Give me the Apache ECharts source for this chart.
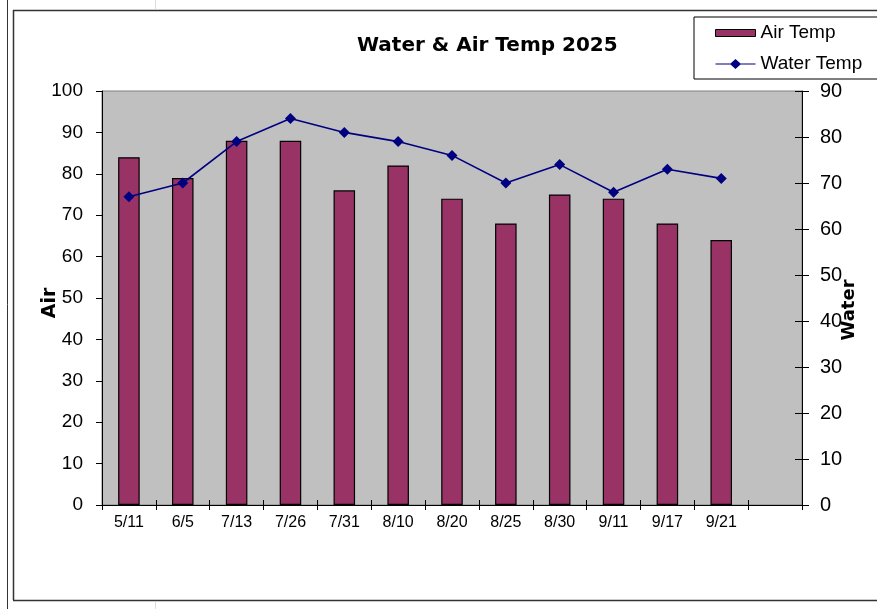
<!DOCTYPE html>
<html>
<head>
<meta charset="utf-8">
<script src="https://cdn.jsdelivr.net/npm/echarts@6/dist/echarts.min.js"></script>
<style>
html,body{margin:0;padding:0;background:#fff;}
#chart{width:877px;height:609px;}
</style>
</head>
<body>
<div id="chart"></div>
<script>
const categories = ['5/11','6/5','7/13','7/26','7/31','8/10','8/20','8/25','8/30','9/11','9/17','9/21',''];
const airTemp = [84,79,88,88,76,82,74,68,75,74,68,64,'-'];
const waterTemp = [67,70,79,84,81,79,76,70,74,68,73,71,'-'];
const airTicks = {min:0,max:100,interval:10};
const waterTicks = {min:0,max:90,interval:10};

const FONT = '"Liberation Sans", Arial, sans-serif';
const TFONT = '"DejaVu Sans", Verdana, sans-serif';
const chart = echarts.init(document.getElementById('chart'), null, {renderer:'canvas'});
chart.setOption({
  backgroundColor:'#ffffff',
  animation:false,
  textStyle:{fontFamily:FONT},
  title:{
    text:'Water & Air Temp 2025',
    left:352, top:31,
    textStyle:{fontFamily:TFONT,fontSize:20,fontWeight:'bold',color:'#000'}
  },
  legend:{
    orient:'vertical',
    left:694, top:17,
    padding:[6,40,5,21],
    itemGap:11,
    backgroundColor:'#fff',
    borderColor:'#000',
    borderWidth:1,
    borderRadius:0,
    itemWidth:40, itemHeight:10,
    textStyle:{fontFamily:FONT,fontSize:19,color:'#000',lineHeight:20},
    data:[
      {name:'Air Temp', icon:'path://M0,1.5 L40,1.5 L40,8.5 L0,8.5 Z', itemStyle:{color:'#993366',borderColor:'#000',borderWidth:1}},
      {name:'Water Temp', icon:'path://M0,4.4 L15,4.4 L20,0 L25,4.4 L40,4.4 L40,5.6 L25,5.6 L20,10 L15,5.6 L0,5.6 Z', itemStyle:{color:'#000080',borderWidth:0}}
    ]
  },
  grid:{
    left:102, right:75, top:91, bottom:104,
    show:true, backgroundColor:'#C0C0C0', borderColor:'#808080', borderWidth:1
  },
  xAxis:[
    {
      type:'category',
      data:categories,
      boundaryGap:true,
      axisLine:{lineStyle:{color:'#000',width:1}},
      axisTick:{show:true,interval:0,length:5,lineStyle:{color:'#000'}},
      axisLabel:{interval:0,fontFamily:FONT,fontSize:16,color:'#000',margin:10},
      splitLine:{show:false}
    },
    {
      type:'category',
      data:categories,
      position:'bottom',
      boundaryGap:true,
      axisLine:{show:false},
      axisTick:{show:true,inside:true,interval:0,length:5,lineStyle:{color:'#000'}},
      axisLabel:{show:false},
      splitLine:{show:false}
    }
  ],
  yAxis:[
    {
      type:'value', min:airTicks.min, max:airTicks.max, interval:airTicks.interval,
      axisLine:{show:true,lineStyle:{color:'#000'}},
      axisTick:{show:true,length:6,lineStyle:{color:'#000'}},
      axisLabel:{fontFamily:FONT,fontSize:19,color:'#000',margin:19},
      splitLine:{show:false}
    },
    {
      type:'value', min:waterTicks.min, max:waterTicks.max, interval:waterTicks.interval,
      position:'right',
      axisLine:{show:true,lineStyle:{color:'#000'}},
      axisTick:{show:true,length:7,lineStyle:{color:'#000'}},
      axisLabel:{fontFamily:FONT,fontSize:20,color:'#000',margin:18},
      splitLine:{show:false}
    },
    {
      type:'value', min:waterTicks.min, max:waterTicks.max, interval:waterTicks.interval,
      position:'right', offset:0,
      axisLine:{show:false},
      axisTick:{show:true,inside:true,length:7,lineStyle:{color:'#000'}},
      axisLabel:{show:false},
      splitLine:{show:false}
    }
  ],
  series:[
    {
      name:'Air Temp', type:'bar', data:airTemp, yAxisIndex:0, xAxisIndex:0,
      barWidth:'40%',
      itemStyle:{color:'#993366',borderColor:'#000',borderWidth:1.2}
    },
    {
      name:'Water Temp', type:'line', data:waterTemp, yAxisIndex:1, xAxisIndex:0,
      symbol:'diamond', symbolSize:11,
      lineStyle:{color:'#000080',width:1.6},
      itemStyle:{color:'#000080'}
    }
  ],
  graphic:[
    {type:'line',shape:{x1:7.5,y1:0,x2:7.5,y2:609},style:{stroke:'#333',lineWidth:1}},
    {type:'line',shape:{x1:13.5,y1:10,x2:13.5,y2:600},style:{stroke:'#333',lineWidth:1.5}},
    {type:'line',shape:{x1:13,y1:10.5,x2:877,y2:10.5},style:{stroke:'#333',lineWidth:1.5}},
    {type:'line',shape:{x1:13,y1:600.5,x2:877,y2:600.5},style:{stroke:'#333',lineWidth:1.5}},
    {type:'line',shape:{x1:155.5,y1:0,x2:155.5,y2:9},style:{stroke:'#ddd',lineWidth:1}},
    {type:'line',shape:{x1:155.5,y1:602,x2:155.5,y2:609},style:{stroke:'#ddd',lineWidth:1}},
    {type:'text',x:50,y:303,rotation:Math.PI/2,
      style:{text:'Air',fontFamily:TFONT,fontSize:19,fontWeight:'bold',fill:'#000',textAlign:'center',textVerticalAlign:'middle'}},
    {type:'text',x:849,y:310,rotation:Math.PI/2,
      style:{text:'Water',fontFamily:TFONT,fontSize:18,fontWeight:'bold',fill:'#000',textAlign:'center',textVerticalAlign:'middle'}}
  ]
});
</script>
</body>
</html>
